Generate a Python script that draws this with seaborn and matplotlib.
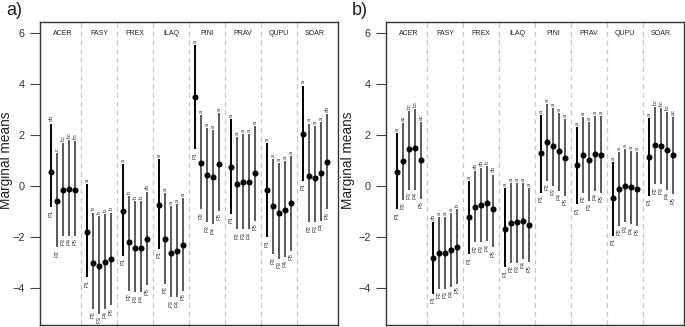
import numpy as np
import pandas as pd
import matplotlib
matplotlib.use("Agg")
import matplotlib.pyplot as plt
import seaborn as sns

# ---------------- data ----------------
species = ["ACER", "FASY", "FREX", "ILAQ", "PINI", "PRAV", "QUPU", "SOAR"]
periods = ["P1", "P2", "P3", "P4", "P5"]

# panel a)
mean_a = [0.57, -0.57, -0.16, -0.12, -0.14,
          -1.78, -2.99, -3.13, -2.97, -2.85,
          -0.96, -2.20, -2.42, -2.42, -2.08,
          -0.74, -2.07, -2.60, -2.55, -2.29,
          3.50, 0.92, 0.44, 0.36, 0.89,
          0.75, 0.10, 0.16, 0.18, 0.53,
          -0.14, -0.78, -1.05, -0.94, -0.66,
          2.03, 0.40, 0.34, 0.51, 0.95]
upper_a = [2.46, 1.29, 1.71, 1.81, 1.77,
           0.08, -1.03, -1.16, -1.09, -1.03,
           0.86, -0.38, -0.57, -0.57, -0.21,
           1.08, -0.25, -0.77, -0.70, -0.48,
           5.55, 2.81, 2.29, 2.20, 2.88,
           2.62, 1.94, 2.03, 2.03, 2.38,
           1.71, 1.08, 0.90, 0.99, 1.18,
           3.95, 2.46, 2.38, 2.51, 2.85]
lower_a = [-0.82, -2.40, -1.94, -1.94, -1.94,
           -3.57, -4.80, -5.00, -4.80, -4.67,
           -2.72, -4.09, -4.15, -4.15, -3.89,
           -2.46, -3.83, -4.35, -4.35, -4.09,
           1.45, -0.90, -1.42, -1.48, -0.96,
           -1.09, -1.68, -1.68, -1.68, -1.35,
           -2.00, -2.66, -2.85, -2.79, -2.53,
           0.21, -1.42, -1.42, -1.35, -0.90]
letters_a = ["ab", "c", "bc", "bc", "bc",
             "a", "b", "b", "b", "b",
             "a", "b", "b", "b", "ab",
             "a", "a", "a", "a", "a",
             "a", "a", "a", "a", "a",
             "a", "a", "a", "a", "a",
             "a", "a", "a", "a", "a",
             "a", "a", "a", "a", "ab"]

# panel b)
mean_b = [0.57, 0.99, 1.45, 1.51, 1.04,
          -2.80, -2.60, -2.60, -2.49, -2.37,
          -1.21, -0.81, -0.74, -0.64, -0.91,
          -1.68, -1.43, -1.40, -1.36, -1.51,
          1.31, 1.73, 1.56, 1.37, 1.12,
          0.85, 1.21, 1.02, 1.25, 1.22,
          -0.47, -0.10, 0.01, -0.04, -0.10,
          1.16, 1.61, 1.56, 1.43, 1.22]
upper_b = [2.10, 2.49, 2.94, 3.03, 2.51,
           -1.42, -1.22, -1.22, -1.04, -0.90,
           0.21, 0.60, 0.72, 0.81, 0.46,
           -0.07, 0.13, 0.13, 0.13, -0.07,
           2.81, 3.24, 3.07, 2.88, 2.62,
           2.32, 2.72, 2.51, 2.75, 2.75,
           0.95, 1.34, 1.47, 1.38, 1.34,
           2.68, 3.11, 3.07, 2.90, 2.72]
lower_b = [-0.90, -0.52, -0.13, -0.13, -0.49,
           -4.22, -4.02, -4.02, -3.96, -3.83,
           -2.66, -2.20, -2.20, -2.15, -2.40,
           -3.18, -2.99, -2.99, -2.85, -2.98,
           -0.25, 0.21, 0.01, -0.18, -0.38,
           -0.70, -0.25, -0.57, -0.18, -0.25,
           -1.94, -1.55, -1.42, -1.48, -1.55,
           -0.38, 0.07, 0.07, -0.13, -0.31]
letters_b = ["a", "ac", "bc", "bc", "ac",
             "ab", "a", "a", "a", "b",
             "a", "ab", "ab", "b", "ab",
             "a", "a", "a", "a", "a",
             "a", "a", "a", "a", "a",
             "a", "a", "a", "a", "a",
             "a", "a", "a", "a", "a",
             "a", "bc", "bc", "bc", "ac"]


def make_df(mean, lower, upper, letters):
    sp = np.repeat(species, len(periods))
    per = np.tile(periods, len(species))
    gi = np.repeat(np.arange(len(species)), len(periods))
    pi = np.tile(np.arange(len(periods)), len(species))
    return pd.DataFrame({"species": sp, "period": per,
                         "x": gi * 6 + pi + 1,
                         "mean": mean, "lower": lower, "upper": upper,
                         "letter": letters})


plt.rcParams["font.family"] = ["Liberation Sans", "DejaVu Sans"]

fig = plt.figure(figsize=(6.85, 3.27), dpi=100)
ax_a = fig.add_axes([40 / 685, 2 / 327, 298 / 685, 303 / 327])
ax_b = fig.add_axes([386 / 685, 2 / 327, 298 / 685, 303 / 327])


def draw_panel(ax, df, tag, tag_x, label_x):
    # group separators
    for k in range(1, len(species)):
        ax.axvline(6 * k, color="#c8c8c8", lw=0.9, ls=(0, (4, 3)), zorder=0)
    # confidence bars
    first = df["period"] == "P1"
    ax.vlines(df.loc[first, "x"], df.loc[first, "lower"], df.loc[first, "upper"],
              color="black", lw=1.4, zorder=1)
    ax.vlines(df.loc[~first, "x"], df.loc[~first, "lower"], df.loc[~first, "upper"],
              color="#5a5a5a", lw=1.4, zorder=1)
    sns.scatterplot(data=df, x="x", y="mean", ax=ax, color="black", s=19,
                    edgecolor="black", linewidth=0, zorder=3, legend=False)
    # letters and period labels
    for _, r in df.iterrows():
        ax.text(r["x"], r["upper"] + 0.08, r["letter"], rotation=90,
                ha="center", va="bottom", fontsize=4.1, color="#333333")
        ax.text(r["x"], r["lower"] - 0.1, r["period"], rotation=90,
                ha="center", va="top", fontsize=4.1, color="#333333")
    for g, name in enumerate(species):
        ax.text(6 * g + 3, 6, name, ha="center", va="center",
                fontsize=5, color="#222222")

    ax.set_xlim(1 - 1.84, 47 + 1.84)
    ax.set_ylim(-5.44, 6.44)
    ax.set_xticks([])
    ax.set_yticks([-4, -2, 0, 2, 4, 6])
    ax.set_yticklabels(["\u22124", "\u22122", "0", "2", "4", "6"])
    ax.tick_params(axis="y", length=7, width=0.8, color="#444444",
                   labelsize=7.8, labelcolor="#333333", pad=4)
    ax.set_xlabel("")
    ax.set_ylabel("Marginal means", fontsize=9.8, color="#222222")
    ax.yaxis.set_label_coords(label_x, 0.545)
    for s in ax.spines.values():
        s.set_color("#333333")
        s.set_linewidth(1.0)
    fig.text(tag_x, 0.995, tag, ha="left", va="top", fontsize=13, color="#222222")


draw_panel(ax_a, make_df(mean_a, lower_a, upper_a, letters_a), "a)", 6 / 685, -0.09)
draw_panel(ax_b, make_df(mean_b, lower_b, upper_b, letters_b), "b)", 352 / 685, -0.105)

fig.savefig("out.png", dpi=100)
